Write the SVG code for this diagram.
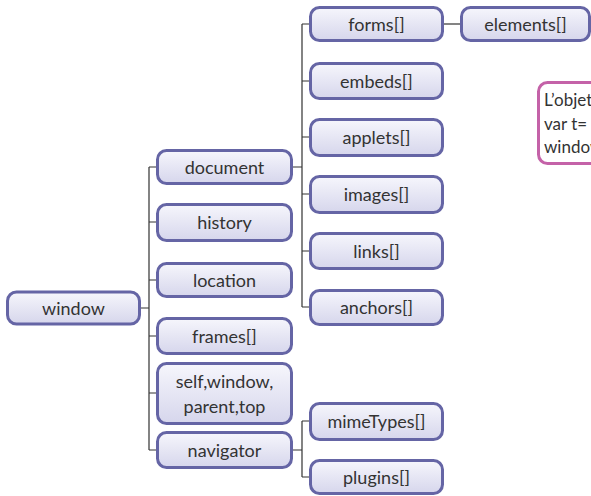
<svg xmlns="http://www.w3.org/2000/svg" width="591" height="496" viewBox="0 0 591 496">
<defs>
<linearGradient id="g" x1="0" y1="0" x2="0" y2="1">
<stop offset="0" stop-color="#f6f6fc"/>
<stop offset="1" stop-color="#d6d6ec"/>
</linearGradient>
</defs>
<style>
.n rect{fill:url(#g);stroke:#6565a5;stroke-width:3}
.n text{font-family:Lato,"Open Sans",sans-serif;font-size:18px;fill:#333;text-anchor:middle}
.c path{fill:none;stroke:#333;stroke-width:1.2}
.note rect{fill:#fff;stroke:#c462a8;stroke-width:3}
.note text{font-family:Lato,"Open Sans",sans-serif;font-size:17px;fill:#333}
</style>
<rect width="591" height="496" fill="#fff"/>
<g id="connectors" class="c">
<path d="M139 308H149M149 167V450M149 167H157M149 222H157M149 280H157M149 336H157M149 393H157M149 450H157"/>
<path d="M292 167H302M302 24V307M302 24H310M302 81H310M302 137H310M302 194H310M302 251H310M302 307H310"/>
<path d="M443 24H461"/>
<path d="M292 450H302M302 421V477M302 421H310M302 477H310"/>
</g>
<g id="window" class="n"><rect x="7.5" y="292" width="132" height="32" rx="9"/><text x="73.5" y="314.5">window</text></g>
<g id="document" class="n"><rect x="157.5" y="150.5" width="134" height="33" rx="9"/><text x="224.5" y="173.5">document</text></g>
<g id="history" class="n"><rect x="157.5" y="204.5" width="134" height="36" rx="9"/><text x="224.5" y="228.5">history</text></g>
<g id="location" class="n"><rect x="157.5" y="263.5" width="134" height="33" rx="9"/><text x="224.5" y="286.5">location</text></g>
<g id="frames" class="n"><rect x="157.5" y="318.5" width="134" height="35" rx="9"/><text x="224.5" y="342.5">frames[]</text></g>
<g id="self" class="n"><rect x="157.5" y="363.5" width="134" height="60" rx="9"/><text x="224.5" y="388">self,window,</text><text x="224.5" y="413">parent,top</text></g>
<g id="navigator" class="n"><rect x="157.5" y="432.5" width="134" height="35" rx="9"/><text x="224.5" y="456.5">navigator</text></g>
<g id="forms" class="n"><rect x="310.5" y="7.5" width="132" height="33" rx="9"/><text x="376.5" y="30.5">forms[]</text></g>
<g id="elements" class="n"><rect x="461.5" y="7.5" width="128" height="33" rx="9"/><text x="525.5" y="30.5">elements[]</text></g>
<g id="embeds" class="n"><rect x="310.5" y="63.5" width="132" height="35" rx="9"/><text x="376.5" y="87.5">embeds[]</text></g>
<g id="applets" class="n"><rect x="310.5" y="119.5" width="132" height="36" rx="9"/><text x="376.5" y="143.5">applets[]</text></g>
<g id="images" class="n"><rect x="310.5" y="176.5" width="132" height="36" rx="9"/><text x="376.5" y="200.5">images[]</text></g>
<g id="links" class="n"><rect x="310.5" y="233.5" width="132" height="35" rx="9"/><text x="376.5" y="257.5">links[]</text></g>
<g id="anchors" class="n"><rect x="310.5" y="290.5" width="132" height="34" rx="9"/><text x="376.5" y="313.5">anchors[]</text></g>
<g id="mimeTypes" class="n"><rect x="310.5" y="403.5" width="132" height="36" rx="9"/><text x="376.5" y="427.5">mimeTypes[]</text></g>
<g id="plugins" class="n"><rect x="310.5" y="460.5" width="132" height="33" rx="9"/><text x="376.5" y="483.5">plugins[]</text></g>
<g id="note" class="note"><rect x="538.5" y="82.5" width="70" height="81" rx="9"/><text x="544" y="106">L’objet</text><text x="544" y="129.5">var t=</text><text x="544" y="153">window</text></g>
</svg>
